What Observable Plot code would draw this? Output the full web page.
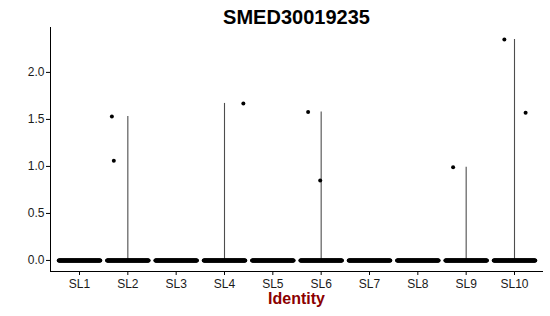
<!DOCTYPE html>
<html>
<head>
<meta charset="utf-8">
<script src="https://cdn.jsdelivr.net/npm/d3@7"></script>
<script src="https://cdn.jsdelivr.net/npm/@observablehq/plot@0.6"></script>
<style>
  html, body { margin: 0; padding: 0; background: #fff; }
  body { width: 550px; height: 316px; font-family: "Liberation Sans", Arial, sans-serif; }
  .title { box-sizing: border-box; width: 550px; height: 27px; padding: 7px 7px 0 50px; line-height: 20px; font-size: 20px; font-weight: bold; text-align: center; color: #000; }
  .xlabel { box-sizing: border-box; width: 550px; height: 18px; padding: 0 7px 0 50px; line-height: 18px; font-size: 16px; font-weight: bold; text-align: center; color: #8b0000; }
  #chart svg { display: block; }
</style>
</head>
<body>
<div class="title">SMED30019235</div>
<div id="chart"></div>
<div class="xlabel">Identity</div>
<script>
// ---- data ----
const clusters = ["SL1", "SL2", "SL3", "SL4", "SL5", "SL6", "SL7", "SL8", "SL9", "SL10"];
// number of cells with zero expression per cluster (estimated; they form the solid band at 0)
const zeroCounts = [120, 120, 120, 120, 120, 120, 120, 120, 120, 120];
// cells with non-zero expression
const pointCluster = ["SL2", "SL2", "SL4", "SL6", "SL6", "SL9", "SL10", "SL10"];
const pointValue   = [1.53, 1.06, 1.67, 1.58, 0.85, 0.99, 2.35, 1.57];
// horizontal jitter of those cells (fraction of a category step)
const pointJitter  = [-0.33, -0.29, 0.39, -0.27, -0.02, -0.27, -0.21, 0.23];
const yTicks = [0, 0.5, 1.0, 1.5, 2.0];

// ---- derived tables ----
const idx = new Map(clusters.map((c, i) => [c, i + 1]));
const zeroCells = clusters.flatMap((c, i) =>
  d3.range(zeroCounts[i]).map(k => ({
    x: i + 1 - 0.43 + 0.86 * k / (zeroCounts[i] - 1),
    y: 0
  }))
);
const posCells = pointCluster.map((c, i) => ({ x: idx.get(c) + pointJitter[i], y: pointValue[i], c }));
const violinTop = d3.rollups(pointCluster.map((c, i) => ({ c, v: pointValue[i] })), v => d3.max(v, d => d.v), d => d.c)
  .map(([c, m]) => ({ x: idx.get(c), top: m }));

const yMax = d3.max(pointValue);
const pad = yMax * 0.05;
const yDomain = [-pad, yMax + pad + 0.01];
const xDomain = [0.4, clusters.length + 0.6];

const chart = Plot.plot({
  width: 550,
  height: 263,
  marginLeft: 50,
  marginRight: 7,
  marginTop: 0,
  marginBottom: 19,
  style: { fontFamily: "Liberation Sans, Arial, sans-serif", fontSize: "12px", color: "#000", background: "#fff" },
  x: { type: "linear", domain: xDomain },
  y: { domain: yDomain },
  marks: [
    Plot.ruleX(violinTop, { x: "x", y1: 0, y2: "top", stroke: "#4d4d4d", strokeWidth: 1.1 }),
    Plot.dot(zeroCells, { x: "x", y: "y", r: 2, fill: "#000", stroke: "none" }),
    Plot.dot(posCells, { x: "x", y: "y", r: 2, fill: "#000", stroke: "none" }),
    Plot.axisX({ ticks: d3.range(1, clusters.length + 1), tickFormat: i => clusters[i - 1], tickSize: 4, tickPadding: 3.5, label: null, fontSize: 12, fill: "#1a1a1a" }),
    Plot.axisY({ ticks: yTicks, tickFormat: d3.format(".1f"), tickSize: 4, tickPadding: 2, label: null, fontSize: 12, fill: "#1a1a1a" }),
    Plot.ruleX([xDomain[0]], { stroke: "#000", strokeWidth: 1 }),
    Plot.ruleY([yDomain[0]], { stroke: "#000", strokeWidth: 1 })
  ]
});
document.getElementById("chart").appendChild(chart);
</script>
</body>
</html>
